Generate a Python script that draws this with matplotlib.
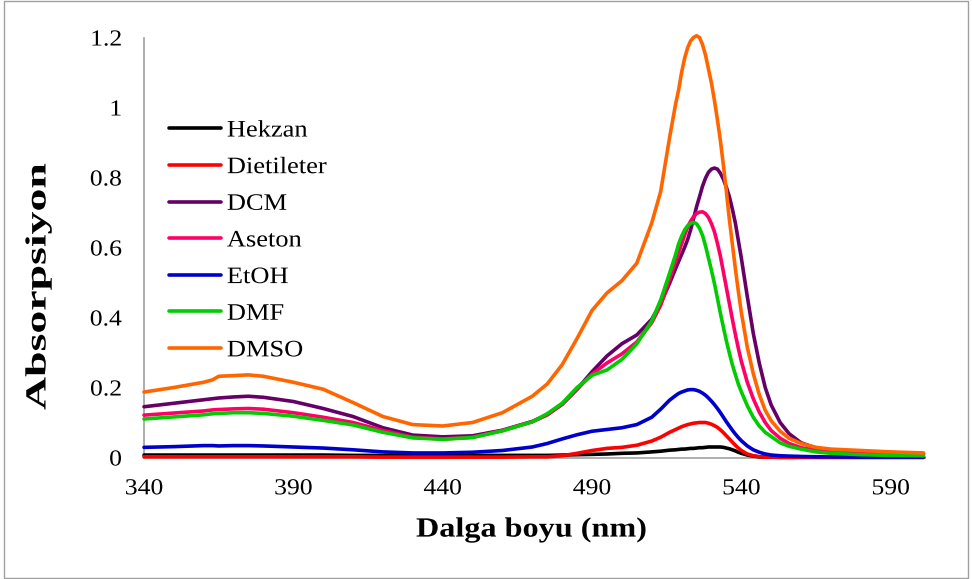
import matplotlib
matplotlib.use('Agg')
import matplotlib.pyplot as plt
from matplotlib.patches import Rectangle
from matplotlib.patheffects import AbstractPathEffect
from matplotlib.transforms import Affine2D

# wavelengths (nm) shared by every series
wl = [340, 350, 360, 363, 365, 370, 375, 380, 390, 400, 410, 420, 430, 440, 450,
      460, 470, 475, 480, 485, 490, 495, 500, 505, 510, 513, 516,
      518, 519, 520, 521, 522, 523, 524, 525, 526, 527, 528, 529, 530, 531, 532,
      533, 534, 535, 536, 537, 538, 539, 540,
      542, 544, 546, 548, 550, 553, 556, 560, 565, 570, 580, 590, 601]

hekzan = [0.007, 0.007, 0.007, 0.007, 0.007, 0.007, 0.007, 0.007, 0.007, 0.007, 0.006, 0.006, 0.006, 0.006, 0.006,
          0.006, 0.006, 0.006, 0.007, 0.008, 0.009, 0.010, 0.012, 0.013, 0.016, 0.018, 0.021,
          0.022, 0.023, 0.024, 0.024, 0.025, 0.026, 0.026, 0.027, 0.028, 0.028, 0.029, 0.030, 0.030, 0.030, 0.030,
          0.030, 0.029, 0.027, 0.025, 0.022, 0.019, 0.015, 0.012,
          0.007, 0.004, 0.002, 0.001, 0.001, 0.001, 0.001, 0.001, 0.001, 0.001, 0.001, 0.001, 0.001]

dietileter = [0.002, 0.002, 0.002, 0.002, 0.002, 0.002, 0.002, 0.002, 0.002, 0.002, 0.002, 0.001, 0.001, 0.001, 0.001,
              0.001, 0.002, 0.002, 0.005, 0.012, 0.020, 0.026, 0.029, 0.035, 0.047, 0.058, 0.072,
              0.080, 0.084, 0.088, 0.091, 0.094, 0.096, 0.098, 0.099, 0.100, 0.100, 0.100, 0.098, 0.095, 0.091, 0.086,
              0.079, 0.071, 0.062, 0.053, 0.044, 0.035, 0.027, 0.020,
              0.010, 0.005, 0.002, 0.001, 0.001, 0.000, 0.000, 0.000, 0.000, 0.000, 0.000, 0.000, 0.000]

dcm = [0.145, 0.155, 0.165, 0.168, 0.170, 0.173, 0.175, 0.172, 0.160, 0.140, 0.117, 0.085, 0.064, 0.059, 0.062,
       0.078, 0.103, 0.122, 0.152, 0.195, 0.245, 0.290, 0.325, 0.350, 0.395, 0.440, 0.498,
       0.540, 0.560, 0.580, 0.600, 0.622, 0.650, 0.682, 0.716, 0.745, 0.775, 0.798, 0.815, 0.824, 0.827, 0.824,
       0.812, 0.795, 0.772, 0.745, 0.710, 0.670, 0.620, 0.570,
       0.460, 0.355, 0.270, 0.200, 0.150, 0.100, 0.068, 0.042, 0.027, 0.021, 0.017, 0.014, 0.011]

aseton = [0.121, 0.127, 0.133, 0.136, 0.137, 0.139, 0.140, 0.138, 0.128, 0.115, 0.100, 0.077, 0.058, 0.053, 0.058,
          0.077, 0.102, 0.122, 0.152, 0.195, 0.238, 0.270, 0.296, 0.330, 0.385, 0.435, 0.510,
          0.560, 0.585, 0.610, 0.635, 0.658, 0.675, 0.688, 0.697, 0.701, 0.702, 0.697, 0.686, 0.668, 0.645, 0.612,
          0.575, 0.530, 0.485, 0.440, 0.395, 0.352, 0.312, 0.275,
          0.215, 0.168, 0.130, 0.100, 0.077, 0.055, 0.040, 0.028, 0.020, 0.017, 0.014, 0.012, 0.010]

etoh = [0.029, 0.031, 0.034, 0.034, 0.033, 0.034, 0.034, 0.033, 0.030, 0.027, 0.022, 0.016, 0.013, 0.013, 0.015,
        0.020, 0.030, 0.040, 0.053, 0.065, 0.075, 0.080, 0.085, 0.094, 0.115, 0.138, 0.164,
        0.177, 0.183, 0.187, 0.190, 0.193, 0.194, 0.194, 0.192, 0.189, 0.184, 0.178, 0.170, 0.161, 0.151, 0.140,
        0.128, 0.115, 0.102, 0.090, 0.078, 0.067, 0.057, 0.048,
        0.033, 0.022, 0.015, 0.010, 0.007, 0.005, 0.004, 0.003, 0.002, 0.002, 0.001, 0.001, 0.001]

dmf = [0.110, 0.116, 0.122, 0.125, 0.126, 0.128, 0.128, 0.126, 0.118, 0.106, 0.093, 0.072, 0.056, 0.052, 0.057,
       0.076, 0.102, 0.125, 0.155, 0.200, 0.235, 0.250, 0.280, 0.325, 0.390, 0.450, 0.527,
       0.580, 0.610, 0.632, 0.650, 0.662, 0.669, 0.672, 0.668, 0.655, 0.635, 0.605, 0.570, 0.535, 0.497, 0.455,
       0.412, 0.372, 0.333, 0.298, 0.265, 0.237, 0.210, 0.188,
       0.148, 0.115, 0.090, 0.072, 0.060, 0.042, 0.032, 0.024, 0.016, 0.012, 0.008, 0.006, 0.005]

dmso = [0.187, 0.200, 0.215, 0.222, 0.232, 0.234, 0.236, 0.232, 0.215, 0.195, 0.157, 0.117, 0.094, 0.090, 0.100,
        0.128, 0.175, 0.210, 0.265, 0.340, 0.420, 0.470, 0.505, 0.555, 0.670, 0.760, 0.915,
        1.010, 1.050, 1.100, 1.140, 1.170, 1.190, 1.200, 1.205, 1.200, 1.180, 1.150, 1.110, 1.070, 1.020, 0.965,
        0.905, 0.835, 0.760, 0.680, 0.610, 0.540, 0.475, 0.415,
        0.315, 0.240, 0.180, 0.135, 0.105, 0.075, 0.055, 0.040, 0.029, 0.024, 0.020, 0.016, 0.013]

names = ['Hekzan', 'Dietileter', 'DCM', 'Aseton', 'EtOH', 'DMF', 'DMSO']
colors = ['#000000', '#FF0000', '#660066', '#FF0066', '#0000CC', '#00CC00', '#FF6600']
series = [hekzan, dietileter, dcm, aseton, etoh, dmf, dmso]

x_ticks = [340, 390, 440, 490, 540, 590]
y_ticks = [0, 0.2, 0.4, 0.6, 0.8, 1.0, 1.2]
y_tick_labels = ['0', '0.2', '0.4', '0.6', '0.8', '1', '1.2']


class Stretch(AbstractPathEffect):
    """widen text glyphs along the baseline (the reference text is wide)"""
    def __init__(self, sx, anchor='left'):
        super().__init__()
        self.sx = sx
        self.anchor = anchor

    def draw_path(self, renderer, gc, tpath, affine, rgbFace=None):
        ext = tpath.get_extents()
        x0 = {'left': 0.0, 'center': (ext.x0 + ext.x1) / 2, 'right': ext.x1}[self.anchor]
        t = Affine2D().translate(-x0, 0).scale(self.sx, 1).translate(x0, 0)
        renderer.draw_path(gc, tpath, t + affine, rgbFace)


plt.rcParams['font.family'] = ['Liberation Serif', 'DejaVu Serif']

fig = plt.figure(figsize=(9.72, 5.79), dpi=100)
ax = fig.add_axes([144/972, 1 - 457.5/579, (925-144)/972, (457.5-37.5)/579])

for vals, name, col in zip(series, names, colors):
    ax.plot(wl, vals, color=col, lw=2.6, label=name, solid_capstyle='round',
            solid_joinstyle='round', clip_on=False)

ax.set_xlim(340, 601.5)
ax.set_ylim(0, 1.2)
ax.set_xticks(x_ticks)
ax.set_yticks(y_ticks)
ax.set_yticklabels(y_tick_labels)
ax.tick_params(length=0, labelsize=16.5)
ax.tick_params(axis='x', pad=15)
ax.tick_params(axis='y', pad=16)
for lbl in ax.get_xticklabels():
    lbl.set_path_effects([Stretch(1.12, 'center')])
for lbl in ax.get_yticklabels():
    lbl.set_path_effects([Stretch(1.12, 'right')])

for side in ('top', 'right'):
    ax.spines[side].set_visible(False)
for side in ('left', 'bottom'):
    ax.spines[side].set_color('#A0A0A0')
    ax.spines[side].set_linewidth(1.2)
    ax.spines[side].set_zorder(0)

leg = ax.legend(loc='upper left', bbox_to_anchor=(169/972, 1 - 120/579),
                bbox_transform=fig.transFigure, frameon=False, fontsize=17,
                handlelength=2.2, handletextpad=0.25, labelspacing=0.64,
                borderpad=0, borderaxespad=0)
for t in leg.get_texts():
    t.set_path_effects([Stretch(1.12)])

fig.text(38/972, 1 - 410/579, 'Absorpsiyon', rotation=90, ha='center',
         va='bottom', fontsize=21, fontweight='bold',
         path_effects=[Stretch(1.57)])
fig.text(416/972, 1 - 530/579, 'Dalga boyu (nm)', ha='left', va='center',
         fontsize=20, fontweight='bold', path_effects=[Stretch(1.16)])

# outer chart border
fig.patches.append(Rectangle((0.004, 0.002), 0.992, 0.996, transform=fig.transFigure,
                             fill=False, edgecolor='#A0A0A0', lw=1.0))

fig.savefig('out.png', dpi=100)
